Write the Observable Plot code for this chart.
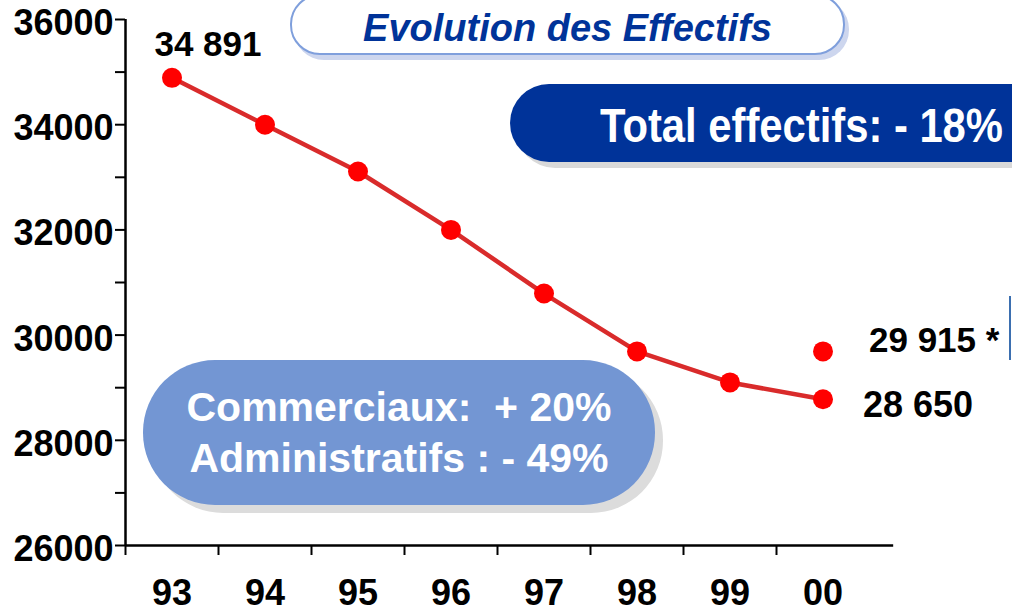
<!DOCTYPE html>
<html>
<head>
<meta charset="utf-8">
<script src="https://cdn.jsdelivr.net/npm/d3@7"></script>
<script src="https://cdn.jsdelivr.net/npm/@observablehq/plot@0.6"></script>
<style>
  html, body { margin: 0; padding: 0; background: #fff; }
  #wrap { position: relative; width: 1012px; height: 612px; overflow: hidden; font-family: "Liberation Sans", Arial, sans-serif; }
  #chart { position: absolute; left: 0; top: 0; }
  .pill { position: absolute; box-sizing: border-box; font-weight: bold; }
  #title { left: 290px; top: -6px; width: 555px; height: 61px; border: 2px solid #7f9fdc; border-radius: 30px;
           background: #fff; box-shadow: 4px 5px 0 #cdd6ee; color: #003399; font-style: italic; font-size: 38px;
           display: flex; align-items: center; justify-content: center; padding-top: 8px; }
  #total { left: 510px; top: 84px; width: 580px; height: 78px; border-radius: 39px; background: #003399;
           box-shadow: 6px 6px 0 #d9d9d9; color: #fff; font-size: 48px; line-height: 78px; white-space: nowrap; }
  #total span { display: inline-block; transform-origin: left center; transform: scaleX(0.87); margin-left: 90px; padding-top: 3px; }
  #comm { left: 143px; top: 360px; width: 512px; height: 145px; border-radius: 72px; background: #7396d3;
          box-shadow: 8px 8px 0 #dcdcdc; color: #fff; font-size: 41px; line-height: 51px; text-align: center;
          padding-top: 22px; white-space: pre; }
  #edge { position: absolute; left: 1009px; top: 296px; width: 2px; height: 64px; background: #3b6fb0; }
</style>
</head>
<body>
<div id="wrap">
  <div id="chart"></div>
  <div id="title" class="pill">Evolution des Effectifs</div>
  <div id="total" class="pill"><span>Total effectifs: - 18%</span></div>
  <div id="comm" class="pill">Commerciaux:  + 20%
Administratifs : - 49%</div>
  <div id="edge"></div>
</div>
<script>
// ---- data ----
const categories = ["93", "94", "95", "96", "97", "98", "99", "00"];
const effectifs = [34891, 34000, 33110, 32000, 30790, 29690, 29100, 28780];
const extraCategory = "00";
const extraValue = 29690;
const firstLabel = "34 891";
const extraLabel = "29 915 *";
const lastLabel = "28 650";
const yTickLabels = [26000, 28000, 30000, 32000, 34000, 36000];
const yTicks = [26000, 27000, 28000, 29000, 30000, 31000, 32000, 33000, 34000, 35000, 36000];

// ---- table ----
const rows = categories.map((c, i) => ({i, cat: c, v: effectifs[i]}));
const extra = {i: categories.indexOf(extraCategory), cat: extraCategory, v: extraValue};
const xc = d => d.i + 0.5;
const font = "Liberation Sans, Arial, sans-serif";

const chart = Plot.plot({
  width: 1012,
  height: 612,
  marginLeft: 125,
  marginRight: 143,
  marginTop: 19,
  marginBottom: 67,
  style: {fontFamily: font, color: "#000", background: "transparent", overflow: "visible"},
  x: {domain: [0, categories.length], axis: null},
  y: {domain: [26000, 36000], axis: null},
  marks: [
    Plot.axisY({ticks: yTicks, tickSize: 10, tickFormat: () => "", label: null, strokeWidth: 2}),
    Plot.axisX({ticks: d3.range(categories.length), tickSize: 10, tickFormat: () => "", label: null, strokeWidth: 2, anchor: "bottom"}),
    Plot.ruleX([0], {y1: 26000, y2: 36000, strokeWidth: 2.5}),
    Plot.ruleY([26000], {x1: 0, x2: categories.length + 0.26, strokeWidth: 2.5}),
    Plot.text(yTickLabels, {x: 0, y: d => d, text: d => d3.format("d")(d), dx: -12, dy: 4, textAnchor: "end",
      fontSize: 36, fontWeight: "bold", fontFamily: font, fill: "#000"}),
    Plot.text(rows, {x: xc, y: 26000, text: "cat", dy: 48, fontSize: 36, fontWeight: "bold", fontFamily: font, fill: "#000"}),
    Plot.line(rows, {x: xc, y: "v", stroke: "#d92b2b", strokeWidth: 4.5}),
    Plot.dot([...rows, extra], {x: xc, y: "v", r: 10, fill: "#ff0000", stroke: "none"}),
    Plot.text([rows[0]], {x: xc, y: "v", text: () => firstLabel, dx: 36, dy: -33, fontSize: 35, fontWeight: "bold", fontFamily: font, fill: "#000"}),
    Plot.text([extra], {x: xc, y: "v", text: () => extraLabel, dx: 46, dy: -11, textAnchor: "start", fontSize: 35, fontWeight: "bold", fontFamily: font, fill: "#000"}),
    Plot.text([rows[rows.length - 1]], {x: xc, y: "v", text: () => lastLabel, dx: 40, dy: 6, textAnchor: "start", fontSize: 36, fontWeight: "bold", fontFamily: font, fill: "#000"})
  ]
});
document.getElementById("chart").appendChild(chart);
</script>
</body>
</html>
